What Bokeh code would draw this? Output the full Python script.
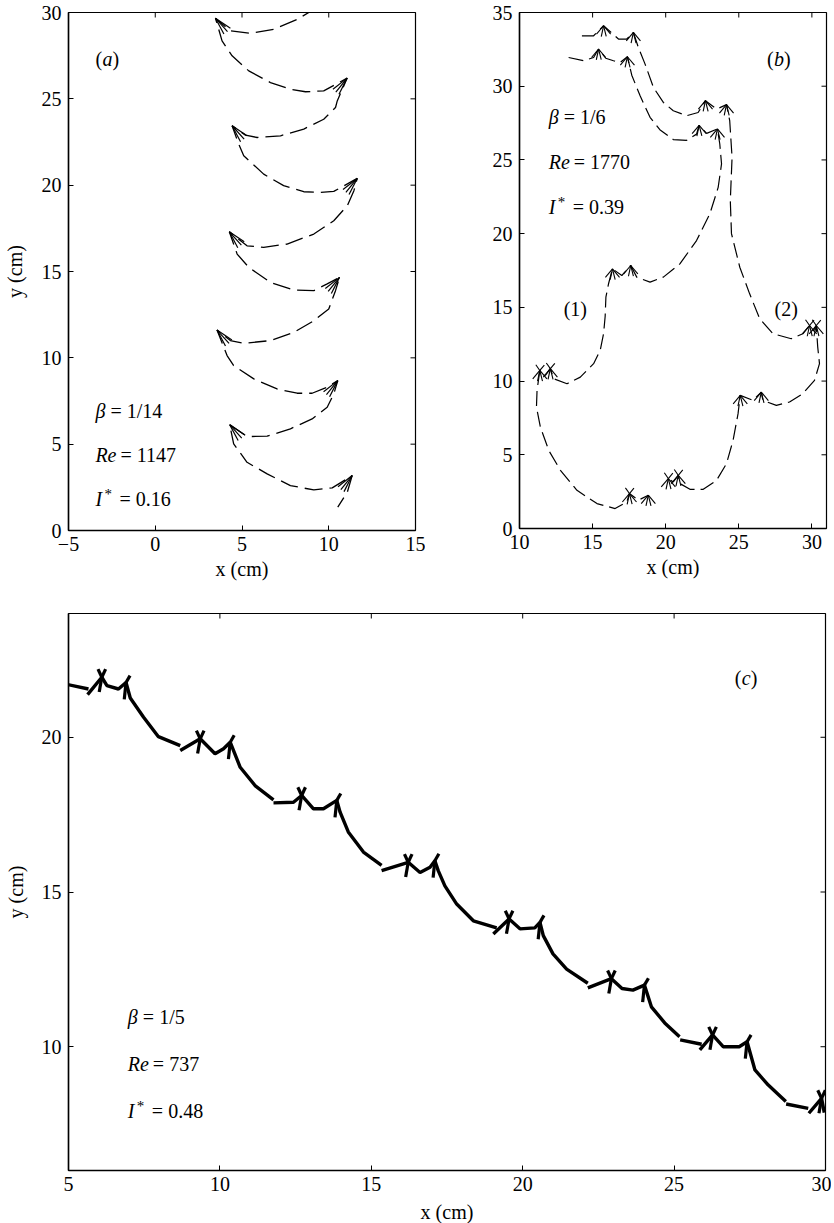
from bokeh.plotting import figure
from bokeh.models import Label, FixedTicker
from bokeh.layouts import column, row
from bokeh.embed import file_html
from bokeh.resources import INLINE

NAN = float("nan")
FONT = "Liberation Serif"

# ---------------- panel (a) : beta = 1/14 ----------------
a_xrange = (-5, 15)
a_yrange = (0, 30)
a_xticks = [-5, 0, 5, 10, 15]
a_yticks = [0, 5, 10, 15, 20, 25, 30]
a_path_x = [9.4, 8.85, 8.18, 6.83, 5.48, 4.33, 3.47,
            3.85, 4.43, 5.39, 6.64, 7.79, 8.66, 9.71, 11.06,
            10.49, 10.39, 9.71, 8.56, 7.22, 5.87, 5.2, 4.43,
            4.81, 5.1, 6.25, 7.4, 8.56, 9.52, 10.29, 11.64,
            11.45, 11.07, 10.29, 9.14, 7.6, 6.25, 5.29, 4.27,
            4.72, 5.39, 6.64, 7.98, 9.14, 9.91, 10.62,
            10.39, 10.0, 9.14, 7.98, 6.64, 5.1, 4.33, 3.56,
            4.14, 4.52, 5.68, 7.02, 8.18, 9.04, 9.81, 10.52,
            10.29, 9.91, 9.04, 7.79, 6.45, 5.29, 4.29,
            4.52, 5.29, 6.45, 7.79, 9.14, 10.2, 11.35,
            11.07, 10.52]
a_path_y = [30.3, 30.0, 29.6, 29.03, 28.8, 28.94, 29.67,
            28.36, 27.49, 26.62, 25.94, 25.56, 25.41, 25.46, 26.2,
            24.88, 24.5, 23.82, 23.25, 22.86, 22.76, 22.9, 23.44,
            22.38, 21.7, 20.64, 19.97, 19.62, 19.58, 19.64, 20.39,
            19.68, 18.81, 17.94, 17.17, 16.59, 16.4, 16.49, 17.3,
            16.01, 15.24, 14.37, 13.93, 13.89, 14.28, 14.66,
            13.89, 12.83, 12.15, 11.47, 11.0, 10.84, 11.0, 11.61,
            10.13, 9.55, 8.78, 8.2, 7.95, 7.95, 8.26, 8.68,
            7.91, 7.14, 6.46, 5.89, 5.46, 5.44, 6.13,
            5.02, 3.95, 3.28, 2.6, 2.35, 2.47, 3.18,
            2.22, 1.35]
a_tips_left_x = [3.47, 4.43, 4.27, 3.56, 4.29]
a_tips_left_y = [29.67, 23.44, 17.3, 11.61, 6.13]
a_tips_right_x = [11.06, 11.64, 10.62, 10.52, 11.35]
a_tips_right_y = [26.2, 20.39, 14.66, 8.68, 3.18]
a_fan_left_angles = [-34, -48, -62]
a_fan_right_angles = [-142, -129, -117]

# ---------------- panel (b) : beta = 1/6 ----------------
b_xrange = (10, 31)
b_yrange = (0, 35)
b_xticks = [10, 15, 20, 25, 30]
b_yticks = [0, 5, 10, 15, 20, 25, 30, 35]
b1_x = [13.36, 14.38, 15.07, 15.41, 15.9, 16.43, 16.88, 17.38,
        17.68, 18.25, 18.93, 19.6, 20.52, 21.43, 22.11, 22.29, 22.8, 23.54,
        23.7, 23.82, 23.59, 23.02, 22.11, 20.97, 19.84, 18.93, 18.02, 17.61,
        17.0, 16.36, 16.09, 15.91, 15.86, 15.75, 15.52, 15.07, 14.16, 13.25,
        12.34, 12.11, 11.77, 11.39, 11.2, 11.16, 11.43, 12.0, 12.8, 13.93,
        15.3, 16.54, 17.34, 17.52, 18.13, 18.81]
b1_y = [31.95, 31.73, 31.95, 32.52, 31.9, 31.73, 31.61, 32.0,
        30.75, 29.35, 27.89, 27.05, 26.38, 26.33, 26.75, 27.35, 26.8, 27.1,
        26.08, 24.73, 23.14, 21.34, 19.53, 17.95, 17.05, 16.71, 17.05, 17.84,
        17.16, 17.61, 16.6, 15.69, 14.4, 13.21, 12.08, 11.18, 10.27, 9.82,
        10.16, 10.84, 10.39, 10.72, 9.37, 8.24, 6.88, 5.3, 3.95, 2.59,
        1.69, 1.35, 1.8, 2.37, 1.92, 2.26]
b2_x = [14.27, 15.07, 15.75, 16.77, 17.34, 17.79,
        18.13, 18.59, 19.16, 19.84, 20.52, 21.43, 22.22, 22.72, 23.48, 24.16,
        24.38, 24.54, 24.42, 24.5, 25.07, 25.75, 26.43, 27.34, 28.59, 29.38,
        29.84, 30.1, 30.3, 30.4, 30.52, 30.18, 29.38, 28.47, 27.57, 26.65,
        26.54, 25.97, 25.1, 24.95, 24.61, 24.16, 23.48, 22.57, 21.66, 20.97,
        20.86, 20.52, 20.18]
b2_y = [33.42, 33.42, 34.1, 33.2, 33.2, 33.65,
        32.63, 31.5, 29.92, 28.9, 28.34, 28.0, 28.22, 29.02, 28.45, 28.75,
        27.66, 25.17, 22.24, 20.0, 17.72, 15.9, 14.23, 13.21, 12.87, 13.21,
        13.77, 13.4, 13.77, 12.3, 11.18, 10.05, 9.15, 8.58, 8.35, 8.69,
        9.25, 8.69, 9.03, 7.79, 5.98, 4.4, 3.27, 2.66, 2.66, 3.05,
        3.61, 3.16, 3.39]
b_tips_x = [15.41, 17.38, 22.29, 23.54, 17.61, 16.36, 12.11, 11.39, 17.52, 18.81,
            15.75, 17.79, 22.72, 24.16, 29.84, 30.3, 26.54, 25.1, 20.86, 20.18]
b_tips_y = [32.52, 32.0, 27.35, 27.1, 17.84, 17.61, 10.84, 10.72, 2.37, 2.26,
            34.1, 33.65, 29.02, 28.75, 13.77, 13.77, 9.25, 9.03, 3.61, 3.39]
b_star_x = [12.11, 11.39, 29.84, 30.3, 20.86, 20.18, 17.52]
b_star_y = [10.84, 10.72, 13.77, 13.77, 3.61, 3.39, 2.37]
b_fan_angles = [-130, -102, -76, -50]
b_star_angles = [50, 125]

# ---------------- panel (c) : beta = 1/5 ----------------
c_xrange = (5, 30)
c_yrange = (6, 24)
c_xticks = [5, 10, 15, 20, 25, 30]
c_yticks = [10, 15, 20]
c_path_x = [4.8, 5.66, NAN,
            5.63, 6.1, 6.27, 6.65, 6.9, 7.04, 7.48, 7.97, 8.69, NAN,
            8.69, 9.35, 9.84, 10.12, 10.34, 10.67, 11.16, 11.77, NAN,
            11.77, 12.43, 12.7, 13.09, 13.42, 13.86, 13.97, 14.24, 14.74, 15.34, NAN,
            15.34, 16.22, 16.61, 16.94, 17.1, 17.21, 17.43, 17.82, 18.37, 19.14, NAN,
            19.03, 19.55, 19.91, 20.4, 20.57, 20.68, 21.0, 21.45, 22.15, NAN,
            22.15, 22.93, 23.28, 23.64, 24.02, 24.25, 24.69, 25.18, NAN,
            25.2, 25.91, NAN,
            25.85, 26.27, 26.62, 27.15, 27.41, 27.67, 28.11, 28.69, NAN,
            28.7, 29.43, NAN,
            29.45, 29.87, 29.96]
c_path_y = [21.74, 21.56, NAN,
            21.38, 21.94, 21.67, 21.56, 21.77, 21.27, 20.65, 20.02, 19.73, NAN,
            19.57, 19.95, 19.47, 19.63, 19.84, 19.03, 18.44, 17.98, NAN,
            17.88, 17.9, 18.12, 17.69, 17.69, 17.96, 17.58, 16.94, 16.29, 15.86, NAN,
            15.69, 15.96, 15.63, 15.8, 16.01, 15.69, 15.2, 14.61, 14.07, 13.84, NAN,
            13.64, 14.13, 13.81, 13.84, 14.02, 13.59, 13.0, 12.51, 12.05, NAN,
            11.9, 12.2, 11.88, 11.83, 11.99, 11.29, 10.77, 10.32, NAN,
            10.22, 10.08, NAN,
            9.9, 10.38, 10.0, 10.0, 10.16, 9.25, 8.76, 8.23, NAN,
            8.15, 8.01, NAN,
            7.85, 8.33, 7.87]
c_tipsA_x = [6.1, 9.35, 12.7, 16.22, 19.55, 22.93, 26.27, 29.87]
c_tipsA_y = [21.94, 19.95, 18.12, 15.96, 14.13, 12.2, 10.38, 8.33]
c_tipsB_x = [6.9, 10.34, 13.86, 17.1, 20.57, 24.02, 27.41]
c_tipsB_y = [21.77, 19.84, 17.96, 16.01, 14.02, 11.99, 10.16]
c_fanA_angles = [115, 65, -100]
c_fanA_len = [9, 9, 15]
c_fanB_angles = [60, -96]
c_fanB_len = [8, 17]


def make_fig(xr, yr, xt, yt, fw, fh, mbl, mbr, mbt, mbb, xlab, ylab,
             xstand=3, ystand=6):
    p = figure(x_range=xr, y_range=yr, frame_width=fw, frame_height=fh,
               min_border_left=mbl, min_border_right=mbr,
               min_border_top=mbt, min_border_bottom=mbb,
               output_backend="svg", toolbar_location=None,
               background_fill_color="white", border_fill_color="white")
    p.xgrid.visible = False
    p.ygrid.visible = False
    p.outline_line_color = "black"
    p.outline_line_width = 1.2
    p.outline_line_alpha = 1.0
    p.xaxis.ticker = FixedTicker(ticks=xt)
    p.yaxis.ticker = FixedTicker(ticks=yt)
    for ax in (p.xaxis[0], p.yaxis[0]):
        ax.major_tick_in = 5
        ax.major_tick_out = 0
        ax.minor_tick_line_color = None
        ax.axis_line_width = 1.5
        ax.axis_line_color = "black"
        ax.major_tick_line_color = "black"
        ax.major_tick_line_width = 1
        ax.major_label_text_font = FONT
        ax.major_label_text_font_size = "20px"
        ax.major_label_text_color = "black"
        ax.axis_label_text_font = FONT
        ax.axis_label_text_font_size = "20px"
        ax.axis_label_text_font_style = "normal"
        ax.axis_label_text_color = "black"
    p.xaxis.major_label_standoff = 6
    p.yaxis.major_label_standoff = 7
    p.xaxis.axis_label = xlab
    p.xaxis.axis_label_standoff = xstand
    if ylab:
        p.yaxis.axis_label = ylab
        p.yaxis.axis_label_standoff = ystand
    # mirrored inward ticks on top and right
    xin = [t for t in xt if xr[0] < t < xr[1]]
    yin = [t for t in yt if yr[0] < t < yr[1]]
    p.ray(x=xin, y=[yr[1]] * len(xin), length=5, length_units="screen",
          angle=-90, angle_units="deg", line_color="black", line_width=1)
    p.ray(x=[xr[1]] * len(yin), y=yin, length=5, length_units="screen",
          angle=180, angle_units="deg", line_color="black", line_width=1)
    return p


def rich(p, x, y, pieces):
    for txt, style, dx, dy, size in pieces:
        p.add_layout(Label(x=x, y=y, text=txt, x_offset=dx, y_offset=dy,
                           text_font=FONT, text_font_style=style,
                           text_font_size=f"{size}px", text_color="black",
                           text_align="left", text_baseline="middle"))


def fans(p, tx, ty, angles, lengths, lw):
    xs, ys, angs, lens = [], [], [], []
    for x0, y0 in zip(tx, ty):
        for a, L in zip(angles, lengths):
            xs.append(x0)
            ys.append(y0)
            angs.append(a)
            lens.append(L)
    p.ray(x=xs, y=ys, angle=angs, angle_units="deg", length=lens,
          length_units="screen", line_color="black", line_width=lw)


def params(p, x, y, beta, re, istar, gap=44):
    rich(p, x, y, [("β", "italic", 0, gap, 20), ("= " + beta, "normal", 15, gap, 20)])
    rich(p, x, y, [("Re", "italic", 0, 0, 20), ("= " + re, "normal", 25, 0, 20)])
    rich(p, x, y, [("I", "italic", 0, -gap, 20), ("*", "normal", 9, -gap + 5, 15),
                   ("= " + istar, "normal", 24, -gap, 20)])


def tag(p, x, y, letter, w):
    rich(p, x, y, [("(", "normal", 0, 0, 20), (letter, "italic", 7, 0, 20),
                   (")", "normal", 7 + w, 0, 20)])


# ---------------- build (a) ----------------
pa = make_fig(a_xrange, a_yrange, a_xticks, a_yticks, 347, 518, 68, 10, 12, 52,
              "x (cm)", "y (cm)", xstand=4, ystand=13)
pa.xaxis.major_label_overrides = {-5: "−5"}
pa.line(a_path_x, a_path_y, line_color="black", line_width=1.3, line_dash="18 7")
fans(pa, a_tips_left_x, a_tips_left_y, a_fan_left_angles, [18, 18, 18], 1.2)
fans(pa, a_tips_right_x, a_tips_right_y, a_fan_right_angles, [18, 18, 18], 1.2)
tag(pa, -3.45, 27.3, "a", 10)
params(pa, -3.45, 4.38, "1/14", "1147", "0.16")

# ---------------- build (b) ----------------
pb = make_fig(b_xrange, b_yrange, b_xticks, b_yticks, 307, 516, 94, 6, 12, 54,
              "x (cm)", None, xstand=4)
pb.line(b1_x, b1_y, line_color="black", line_width=1.2, line_dash="15 6")
pb.line(b2_x, b2_y, line_color="black", line_width=1.2, line_dash="15 6")
fans(pb, b_tips_x, b_tips_y, b_fan_angles, [11, 11, 11, 11], 1.1)
fans(pb, b_star_x, b_star_y, b_star_angles, [7, 7], 1.1)
tag(pb, 26.93, 31.84, "b", 10)
params(pb, 12.0, 24.86, "1/6", "1770", "0.39", gap=45)
rich(pb, 13.02, 14.9, [("(1)", "normal", 0, 0, 20)])
rich(pb, 27.45, 14.9, [("(2)", "normal", 0, 0, 20)])

# ---------------- build (c) ----------------
pc = make_fig(c_xrange, c_yrange, c_xticks, c_yticks, 757, 557, 68, 6, 31, 52,
              "x (cm)", "y (cm)", xstand=7, ystand=12)
pc.line(c_path_x, c_path_y, line_color="black", line_width=3.4)
fans(pc, c_tipsA_x, c_tipsA_y, c_fanA_angles, c_fanA_len, 3.2)
fans(pc, c_tipsB_x, c_tipsB_y, c_fanB_angles, c_fanB_len, 3.2)
tag(pc, 27.0, 21.93, "c", 9)
params(pc, 6.96, 9.45, "1/5", "737", "0.48", gap=47)

layout = column(row(pa, pb), pc)
open("out.html", "w").write(file_html(layout, INLINE))
